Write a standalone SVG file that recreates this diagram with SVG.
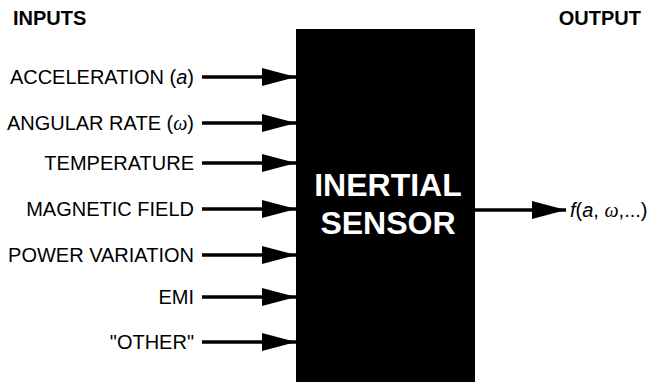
<svg xmlns="http://www.w3.org/2000/svg" width="649" height="382" viewBox="0 0 649 382">
<defs>
<marker id="ah" markerUnits="userSpaceOnUse" markerWidth="36" markerHeight="20" refX="34" refY="9" orient="auto">
<path d="M0,0 L34,9 L0,18 Z" fill="#000"/>
</marker>
<style>
.lbl{font-family:"Liberation Sans",Arial,sans-serif;font-size:20px;fill:#000;text-anchor:end}
.out{font-family:"Liberation Sans",Arial,sans-serif;font-size:20px;fill:#000;text-anchor:start}
.hdr{font-family:"Liberation Sans",Arial,sans-serif;font-size:20px;font-weight:bold;fill:#000}
.big{font-family:"Liberation Sans",Arial,sans-serif;font-size:32px;font-weight:bold;fill:#fff;text-anchor:middle}
.conn{stroke:#000;stroke-width:3.5;fill:none;marker-end:url(#ah)}
</style>
</defs>
<rect width="649" height="382" fill="#fff"/>
<text class="hdr" x="13" y="25">INPUTS</text>
<text class="hdr" x="641" y="25" style="text-anchor:end">OUTPUT</text>
<g id="sensor">
<rect x="296" y="29" width="179" height="360" fill="#000"/>
<text class="big" x="388" y="196">INERTIAL</text>
<text class="big" x="388" y="234">SENSOR</text>
</g>
<g id="in-accel"><text class="lbl" x="194" y="84">ACCELERATION (<tspan font-style="italic">a</tspan>)</text></g>
<g id="in-angular"><text class="lbl" x="194" y="130">ANGULAR RATE (<tspan font-family="'Liberation Serif',serif" font-style="italic">ω</tspan>)</text></g>
<g id="in-temp"><text class="lbl" x="194" y="170">TEMPERATURE</text></g>
<g id="in-mag"><text class="lbl" x="194" y="216">MAGNETIC FIELD</text></g>
<g id="in-power"><text class="lbl" x="194" y="262">POWER VARIATION</text></g>
<g id="in-emi"><text class="lbl" x="194" y="304">EMI</text></g>
<g id="in-other"><text class="lbl" x="194" y="349">"OTHER"</text></g>
<g id="out"><text class="out" x="570" y="217"><tspan font-style="italic">f</tspan>(<tspan font-style="italic">a</tspan>, <tspan font-family="'Liberation Serif',serif" font-style="italic">ω</tspan>,...)</text></g>
<g id="connectors">
<line class="conn" x1="202" y1="77" x2="296" y2="77"/>
<line class="conn" x1="202" y1="123" x2="296" y2="123"/>
<line class="conn" x1="202" y1="163" x2="296" y2="163"/>
<line class="conn" x1="202" y1="209" x2="296" y2="209"/>
<line class="conn" x1="202" y1="255" x2="296" y2="255"/>
<line class="conn" x1="202" y1="297" x2="296" y2="297"/>
<line class="conn" x1="202" y1="342" x2="296" y2="342"/>
<line class="conn" x1="475" y1="210" x2="566" y2="210"/>
</g>
</svg>
